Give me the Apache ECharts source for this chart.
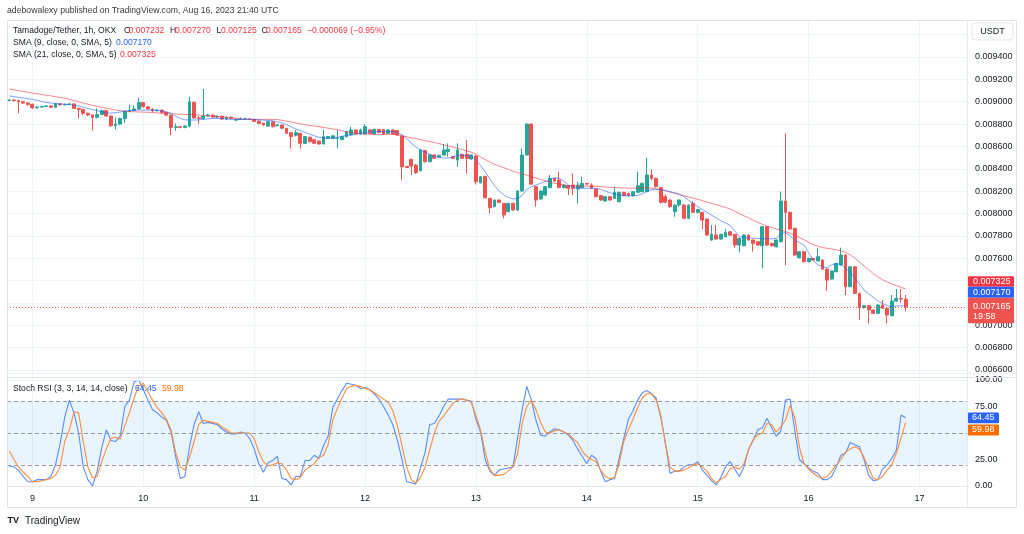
<!DOCTYPE html>
<html><head><meta charset="utf-8">
<script src="https://cdn.jsdelivr.net/npm/echarts@6/dist/echarts.min.js"></script>
<style>html,body{margin:0;padding:0;background:#fff}#c{width:1024px;height:534px}</style>
</head><body><div id="c"></div>
<script>
const FONT = '"Liberation Sans", Arial, sans-serif';
// prices in millionths of USDT (value 9012 = 0.009012), one entry per 1h candle, Aug 8 19:00 .. Aug 16 21:00
const openP = [9012,9015,9010,9000,8988,8975,8945,8952,8958,8962,
8950,8982,8972,8976,8980,8940,8930,8897,8882,8860,
8885,8920,8872,8785,8800,8850,8915,8922,8935,8992,
8955,8935,8920,8925,8905,8880,8770,8775,8770,8782,
8995,8855,8850,8872,8880,8862,8870,8845,8860,8835,
8842,8845,8846,8842,8826,8808,8782,8821,8785,8792,
8762,8723,8700,8717,8628,8682,8660,8648,8622,8672,
8672,8672,8660,8687,8702,8747,8711,8711,8747,8711,
8752,8752,8717,8747,8742,8690,8420,8484,8433,8383,
8562,8463,8523,8505,8523,8553,8508,8478,8529,8529,
8487,8514,8275,8330,8135,8061,8120,8090,8016,8090,
8031,8201,8523,8800,8240,8129,8165,8231,8314,8299,
8231,8248,8254,8219,8231,8269,8254,8219,8159,8111,
8150,8135,8105,8189,8180,8159,8189,8195,8195,8344,
8314,8231,8150,8120,8016,8075,8075,7956,8090,8010,
8010,7950,7762,7807,7771,7792,7836,7813,7717,7711,
7807,7762,7747,7711,7881,7732,7702,7747,8111,8010,
7867,7604,7658,7568,7598,7575,7583,7502,7413,7479,
7539,7628,7345,7523,7285,7157,7175,7136,7106,7181,
7151,7085,7216,7240,7232];
const closeP = [9015,9010,9000,8988,8975,8945,8952,8958,8962,8950,
8982,8972,8976,8978,8940,8930,8897,8882,8860,8885,
8920,8872,8785,8800,8850,8915,8922,8935,8992,8955,
8935,8920,8925,8905,8880,8770,8775,8770,8782,8998,
8855,8850,8872,8880,8862,8870,8845,8860,8850,8842,
8845,8846,8842,8824,8805,8792,8821,8777,8792,8762,
8718,8688,8722,8628,8688,8642,8628,8622,8688,8688,
8695,8674,8687,8732,8747,8711,8747,8776,8717,8752,
8726,8711,8747,8711,8702,8418,8412,8424,8365,8568,
8463,8523,8493,8520,8568,8574,8493,8568,8493,8493,
8523,8284,8329,8140,8052,8120,8099,7986,8090,8031,
8201,8523,8800,8262,8120,8201,8240,8314,8290,8231,
8254,8225,8225,8254,8269,8263,8225,8150,8120,8150,
8120,8189,8189,8159,8159,8195,8248,8269,8344,8314,
8240,8099,8100,8061,8075,8120,7956,8075,8010,8035,
7941,7807,7813,7771,7813,7830,7806,7717,7777,7807,
7762,7732,7717,7881,7717,7711,7762,8111,8010,7861,
7628,7658,7568,7598,7583,7613,7502,7404,7485,7553,
7628,7345,7523,7285,7157,7175,7136,7106,7181,7151,
7091,7216,7240,7234,7165];
const lowP = [9005,9000,8896,8980,8965,8935,8940,8946,8950,8945,
8945,8965,8968,8970,8935,8851,8880,8870,8740,8850,
8880,8865,8775,8752,8790,8810,8905,8915,8930,8948,
8928,8905,8912,8895,8870,8702,8740,8762,8762,8770,
8848,8800,8840,8865,8855,8855,8838,8835,8842,8828,
8836,8838,8835,8818,8800,8785,8776,8770,8780,8755,
8710,8582,8690,8582,8622,8636,8622,8615,8618,8666,
8668,8582,8655,8680,8698,8705,8705,8705,8712,8706,
8720,8705,8712,8705,8698,8300,8405,8344,8353,8375,
8455,8458,8488,8500,8518,8508,8488,8418,8488,8358,
8482,8260,8269,8135,8001,8055,8094,7956,8010,8025,
8025,8195,8518,8255,8060,8124,8160,8226,8284,8226,
8226,8165,8165,8090,8226,8255,8220,8145,8115,8106,
8115,8130,8100,8154,8154,8154,8184,8190,8190,8300,
8230,8090,8092,8050,7970,8060,7950,7950,8005,8000,
7861,7800,7753,7765,7765,7786,7800,7693,7652,7705,
7756,7658,7711,7509,7711,7705,7696,7740,7539,7855,
7620,7598,7562,7562,7578,7570,7496,7306,7408,7474,
7534,7270,7340,7280,7046,7150,7016,7100,7100,7145,
7016,7080,7210,7201,7125];
const highP = [9022,9020,9018,9005,8995,8985,8958,8962,8968,8966,
8988,8986,8982,8990,8985,8945,8935,8902,8886,8940,
8928,8925,8878,8860,8858,8920,8975,8968,9036,8998,
8960,8940,8932,8930,8910,8885,8805,8780,8790,9045,
9000,8870,9114,8890,8885,8878,8875,8865,8866,8850,
8860,8855,8852,8846,8832,8812,8826,8826,8798,8795,
8765,8726,8747,8720,8692,8686,8664,8652,8748,8694,
8700,8750,8692,8738,8776,8752,8760,8800,8752,8760,
8756,8756,8752,8752,8746,8700,8425,8490,8440,8575,
8568,8530,8528,8525,8621,8627,8512,8627,8534,8657,
8528,8520,8335,8338,8140,8125,8125,8095,8095,8095,
8206,8583,8806,8806,8245,8206,8245,8344,8319,8374,
8259,8253,8359,8284,8329,8274,8269,8224,8164,8156,
8155,8240,8194,8194,8185,8200,8374,8274,8499,8394,
8320,8236,8170,8125,8080,8125,8085,8080,8111,8040,
8015,7955,7896,7896,7818,7860,7840,7818,7782,7812,
7812,7767,7752,7888,7886,7737,7768,8195,8717,8016,
7872,7663,7663,7603,7603,7688,7588,7507,7490,7558,
7694,7633,7528,7528,7290,7180,7180,7141,7186,7225,
7156,7270,7324,7324,7270];
const sma9 = [9052,9045,9039,9033,9027,9021,9012,
9002,8993,8988,8984,8980,8978,8974,
8968,8962,8950,8940,8930,8920,8908,
8898,8897,8902,8908,8914,8920,8923,
8925,8925,8925,8925,8923,8917,8908,
8898,8870,8850,8838,8836,8836,8837,
8842,8846,8850,8850,8848,8845,8842,
8842,8842,8842,8842,8840,8838,8835,
8832,8830,8820,8812,8795,8775,8755,
8742,8725,8710,8695,8682,8676,8672,
8675,8681,8690,8698,8705,8711,8718,
8724,8730,8732,8732,8732,8732,8732,
8725,8705,8670,8628,8595,8565,8550,
8530,8510,8502,8497,8495,8505,8520,
8522,8518,8512,8480,8430,8370,8310,
8250,8200,8165,8145,8130,8135,8160,
8215,8240,8255,8270,8285,8300,8320,
8315,8290,8255,8236,8228,8225,8225,
8225,8225,8215,8200,8185,8175,8165,
8160,8156,8158,8162,8175,8200,8212,
8216,8212,8205,8195,8185,8175,8150,
8120,8090,8060,8035,8010,7985,7960,
7935,7915,7895,7845,7792,7785,7780,
7778,7777,7775,7772,7773,7777,7820,
7828,7800,7762,7740,7717,7650,7580,
7540,7525,7515,7540,7550,7545,7510,
7470,7420,7370,7315,7280,7250,7216,
7195,7176,7166,7170,7175,7170];
const sma21 = [9113,9106,9099,9092,9085,9077,
9071,9065,9058,9052,9045,9038,9032,
9022,9010,8998,8988,8978,8968,8958,
8950,8942,8934,8926,8920,8916,8912,
8910,8908,8907,8905,8903,8900,8897,
8895,8893,8890,8888,8886,8884,8882,
8880,8877,8874,8871,8868,8865,8862,
8858,8852,8846,8843,8842,8842,8842,
8842,8842,8841,8840,8834,8826,8818,
8810,8802,8795,8788,8782,8776,8770,
8763,8756,8749,8740,8732,8724,8718,
8714,8711,8709,8708,8708,8708,8708,
8708,8702,8695,8686,8678,8670,8661,
8652,8643,8634,8625,8615,8604,8594,
8583,8572,8560,8548,8530,8505,8482,
8460,8440,8425,8410,8395,8378,8365,
8355,8343,8330,8318,8305,8292,8280,
8270,8262,8255,8250,8247,8245,8245,
8245,8244,8243,8240,8237,8234,8232,
8230,8228,8226,8226,8228,8230,8230,
8226,8220,8212,8203,8192,8180,8168,
8158,8148,8138,8126,8115,8102,8090,
8078,8066,8054,8040,8020,8000,7980,
7960,7940,7920,7902,7887,7874,7862,
7850,7838,7822,7804,7785,7765,7742,
7722,7706,7695,7688,7682,7675,7665,
7652,7630,7600,7565,7530,7495,7462,
7432,7407,7387,7370,7354,7338,7325];
const stochK = [19,18,15,9,4,4,6,6,6,9,
20,40,65,81,69,50,18,6,0,14,
36,53,43,42,47,75,81,98,100,91,
81,72,69,65,62,51,28,7,9,37,
58,70,59,60,59,58,54,51,49,49,
51,50,45,35,21,13,22,24,28,7,
6,1,9,9,24,24,29,26,38,47,
74,82,90,97,96,95,92,93,91,87,
82,75,67,58,43,25,4,3,2,17,
32,58,59,66,75,82,82,82,82,81,
80,63,51,25,14,10,15,16,17,18,
45,72,94,81,62,48,47,51,54,53,
51,48,43,35,28,21,29,26,14,4,
6,7,26,45,63,71,81,88,90,87,
83,65,41,12,14,14,18,20,20,23,
15,10,5,1,8,18,23,16,9,18,
35,43,53,55,64,55,47,52,81,82,
53,25,21,17,14,12,6,6,9,18,
29,31,41,39,37,25,10,5,6,16,
20,26,34,67,64.45];
const stochD = [33,25,18,13,9,4,4,5,6,7,
10,18,42,53,70,69,42,18,8,9,
23,35,45,46,44,57,69,83,94,97,
89,81,74,69,63,53,32,18,15,27,
42,58,62,61,60,59,56,53,50,50,
50,50,50,45,32,23,19,20,22,21,
15,7,6,8,15,18,21,27,29,39,
62,73,83,92,94,95,94,92,91,88,
85,82,79,71,57,38,18,6,3,8,
18,34,50,61,66,72,78,81,82,81,
79,66,53,32,16,10,10,11,14,18,
30,59,75,81,72,60,51,50,52,53,
51,49,45,41,33,28,25,23,15,9,
7,8,21,42,53,63,74,83,87,87,
81,67,40,18,14,14,15,17,20,21,
18,14,7,3,6,9,16,18,16,21,
34,44,48,50,59,58,51,56,62,76,
65,37,21,16,12,9,7,9,14,20,
25,32,35,37,35,27,17,7,6,9,
15,20,31,45,59.98];
const dayLabels = ['9','10','11','12','13','14','15','16','17'];
const rsiTicks = [0, 25, 75, 100];

const N_SLOTS = 208;
const categories = [];
for (let i = 0; i < N_SLOTS; i++) {
  const t = 19 + i;
  categories.push('Aug ' + (8 + Math.floor(t / 24)) + ' ' + String(t % 24).padStart(2, '0') + ':00');
}
const candleData = openP.map((o, i) => [o, closeP[i], lowP[i], highP[i]]);
const last = closeP.length - 1;
const fmtP = v => (v / 1e6).toFixed(6);

const UP = '#26a69a', DOWN = '#ef5350';
const chart = echarts.init(document.getElementById('c'));
const noLbl = {show: false};
chart.setOption({
  animation: false,
  backgroundColor: '#ffffff',
  textStyle: {fontFamily: FONT},
  grid: [
    {left: 32.4, top: 20, width: 887.1, height: 466},
    {left: 7, top: 34.65, width: 961, height: 335.25},
    {left: 7, top: 380, width: 961, height: 106}
  ],
  xAxis: [
    {gridIndex: 0, type: 'value', min: 0, max: 192, interval: 24,
      axisLine: {show: false}, axisTick: {show: false},
      axisLabel: {formatter: v => dayLabels[v / 24] || '', color: '#131722', fontSize: 9, margin: 8, fontFamily: FONT},
      splitLine: {show: true, lineStyle: {color: '#f0f3fa', width: 1}}},
    {gridIndex: 1, type: 'category', data: categories, show: false},
    {gridIndex: 2, type: 'category', data: categories,
      axisLine: {show: true, lineStyle: {color: '#e6e8ee'}}, axisTick: {show: false}, axisLabel: {show: false}, splitLine: {show: false}}
  ],
  yAxis: [
    {gridIndex: 0, type: 'value', min: 0, max: 1, show: false},
    {gridIndex: 1, type: 'value', position: 'right', min: 6600, max: 9600, interval: 200,
      axisLine: {show: false}, axisTick: {show: false},
      axisLabel: {formatter: v => v === 9600 ? '' : fmtP(v), color: '#131722', fontSize: 9, margin: 7, fontFamily: FONT},
      splitLine: {show: true, lineStyle: {color: '#f0f3fa', width: 1}}},
    {gridIndex: 2, type: 'value', position: 'right', min: 0, max: 100, interval: 25,
      axisLine: {show: false}, axisTick: {show: false},
      axisLabel: {formatter: v => rsiTicks.indexOf(v) >= 0 ? v.toFixed(2) : '', color: '#131722', fontSize: 9, margin: 7, fontFamily: FONT},
      splitLine: {show: false}}
  ],
  series: [
    {type: 'candlestick', xAxisIndex: 1, yAxisIndex: 1, data: candleData, barWidth: '72%',
      itemStyle: {color: UP, color0: DOWN, borderColor: UP, borderColor0: DOWN, borderWidth: 1},
      markLine: {silent: true, symbol: ['none', 'none'], label: noLbl,
        lineStyle: {color: DOWN, type: [1, 2], width: 1}, data: [{yAxis: closeP[last]}]}},
    {type: 'line', xAxisIndex: 1, yAxisIndex: 1, data: sma21, symbol: 'none', silent: true,
      lineStyle: {color: 'rgba(242,54,69,0.6)', width: 1}},
    {type: 'line', xAxisIndex: 1, yAxisIndex: 1, data: sma9, symbol: 'none', silent: true,
      lineStyle: {color: 'rgba(41,98,255,0.6)', width: 1}},
    {type: 'line', xAxisIndex: 2, yAxisIndex: 2, data: stochK, symbol: 'none', silent: true,
      lineStyle: {color: '#5a8bf7', width: 1.1},
      markArea: {silent: true, itemStyle: {color: 'rgba(33,150,243,0.1)'}, data: [[{yAxis: 20}, {yAxis: 80}]]},
      markLine: {silent: true, symbol: ['none', 'none'], label: noLbl,
        lineStyle: {color: '#eceef2', type: 'solid', width: 1}, data: [{yAxis: 100}]}},
    {type: 'line', xAxisIndex: 2, yAxisIndex: 2, data: stochD, symbol: 'none', silent: true,
      lineStyle: {color: '#ff8b3d', width: 1.1},
      markLine: {silent: true, symbol: ['none', 'none'], label: noLbl,
        lineStyle: {color: '#9598a1', type: [4, 3], width: 1}, data: [{yAxis: 80}, {yAxis: 50}, {yAxis: 20}]}}
  ]
});

// overlay texts, frame and value badges
function txt(x, y, text, color, size, extra) {
  return Object.assign({type: 'text', x: x, y: y, z: 100, silent: true,
    style: {text: text, fill: color, fontSize: size || 8.6, fontFamily: FONT, align: 'left', verticalAlign: 'middle',
      textAlign: 'left', textVerticalAlign: 'middle'}}, extra || {});
}
function badge(yTop, h, fill, lines) {
  const els = [{type: 'rect', z: 110, silent: true, shape: {x: 968, y: yTop, width: 46, height: h, r: 1}, style: {fill: fill}}];
  lines.forEach(l => els.push(Object.assign(txt(973, l[1], l[0], '#ffffff', 9), {z: 111})));
  return els;
}
function line(x1, y1, x2, y2, color) {
  return {type: 'line', z: 90, silent: true, shape: {x1: x1, y1: y1, x2: x2, y2: y2}, style: {stroke: color, lineWidth: 1}};
}
const yClose = chart.convertToPixel({yAxisIndex: 1}, closeP[last]);
const yK = chart.convertToPixel({yAxisIndex: 2}, stochK[last]);
const closeTop = yClose - 9;
const blueTop = closeTop - 11;
const redTop = blueTop - 10.5;
const kTop = yK - 5.3;
const g = [];
g.push({type: 'rect', z: 80, silent: true, shape: {x: 7.5, y: 20.5, width: 1009, height: 487}, style: {fill: 'none', stroke: '#e0e3eb', lineWidth: 1}});
g.push(line(967.5, 20, 967.5, 507, '#e6e8ee'));
g.push(line(7, 373.5, 1016, 373.5, '#eef0f3'));
g.push(line(7, 377.5, 1016, 377.5, '#e0e3eb'));
g.push({type: 'rect', z: 100, silent: true, shape: {x: 972, y: 23, width: 41, height: 17, r: 3}, style: {fill: '#ffffff', stroke: '#e0e3eb', lineWidth: 1}});
g.push(Object.assign(txt(992.5, 31.5, 'USDT', '#131722', 9), {style: {text: 'USDT', fill: '#131722', fontSize: 9, fontFamily: FONT, align: 'center', textAlign: 'center', verticalAlign: 'middle', textVerticalAlign: 'middle'}}));
g.push(txt(7, 11, 'adebowalexy published on TradingView.com, Aug 16, 2023 21:40 UTC', '#3a3a3a', 8.7));
g.push(txt(13, 30.5, 'Tamadoge/Tether, 1h, OKX', '#131722'));
[['O', 124, '0.007232', 128.5], ['H', 170, '0.007270', 175], ['L', 216.5, '0.007125', 221], ['C', 261.5, '0.007165', 266]].forEach(p => {
  g.push(txt(p[1], 30.5, p[0], '#131722'));
  g.push(txt(p[3], 30.5, p[2], '#f23645'));
});
g.push(txt(307, 30.5, '\u22120.000069 (\u22120.95%)', '#f23645'));
g.push(txt(13, 43, 'SMA (9, close, 0, SMA, 5)', '#131722'));
g.push(txt(116, 43, fmtP(sma9[last]), '#2962ff'));
g.push(txt(13, 55, 'SMA (21, close, 0, SMA, 5)', '#131722'));
g.push(txt(120, 55, fmtP(sma21[last]), '#f23645'));
g.push(txt(13, 388.5, 'Stoch RSI (3, 3, 14, 14, close)', '#131722'));
g.push(txt(135, 388.5, stochK[last].toFixed(2), '#2962ff'));
g.push(txt(162, 388.5, stochD[last].toFixed(2), '#ff6d00'));
g.push(...badge(redTop, 10.5, '#f23645', [[fmtP(sma21[last]), redTop + 5.3]]));
g.push(...badge(blueTop, 11, '#2962ff', [[fmtP(sma9[last]), blueTop + 5.5]]));
g.push(...badge(closeTop, 25.5, DOWN, [[fmtP(closeP[last]), yClose], ['19:58', yClose + 9.5]]));
g.push({type: 'rect', z: 110, silent: true, shape: {x: 968, y: kTop, width: 31, height: 10.8, r: 1}, style: {fill: '#2962ff'}});
g.push(Object.assign(txt(972, yK, stochK[last].toFixed(2), '#ffffff', 9), {z: 111}));
g.push({type: 'rect', z: 110, silent: true, shape: {x: 968, y: kTop + 12, width: 31, height: 11, r: 1}, style: {fill: '#ff6d00'}});
g.push(Object.assign(txt(972, kTop + 17.5, stochD[last].toFixed(2), '#ffffff', 9), {z: 111}));
g.push(txt(25, 521, 'TradingView', '#131722', 10));
g.push(txt(7.5, 520.5, 'TV', '#131722', 9, {style: {text: 'TV', fill: '#131722', fontSize: 9, fontWeight: 'bold', fontFamily: FONT, align: 'left', textAlign: 'left', verticalAlign: 'middle', textVerticalAlign: 'middle'}}));
chart.setOption({graphic: {elements: g}});
</script>
</body></html>
